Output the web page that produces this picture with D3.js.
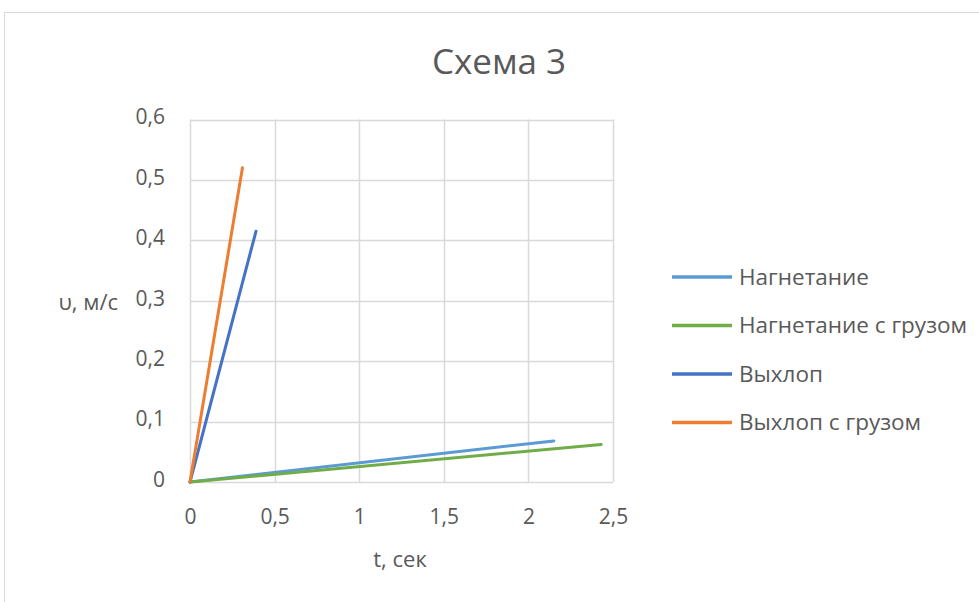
<!DOCTYPE html>
<html>
<head>
<meta charset="utf-8">
<script src="https://cdn.jsdelivr.net/npm/d3@7/dist/d3.min.js"></script>
<style>
  html, body { margin: 0; padding: 0; background: #fff; }
  svg { display: block; font-family: "Open Sans", "Noto Sans", sans-serif; }
</style>
</head>
<body>
<svg id="chart" width="979" height="602"></svg>
<script>
// Series: time (s) vs velocity (m/s)
const seriesNames = ["Нагнетание", "Нагнетание с грузом", "Выхлоп", "Выхлоп с грузом"];
const seriesColors = ["#5B9BD5", "#70AD47", "#4472C4", "#ED7D31"];
const tNagn = [0, 2.15];
const vNagn = [0, 0.068];
const tNagnGruz = [0, 2.43];
const vNagnGruz = [0, 0.062];
const tVykhlop = [0, 0.39];
const vVykhlop = [0, 0.415];
const tVykhlopGruz = [0, 0.31];
const vVykhlopGruz = [0, 0.52];
const xTicks = [0, 0.5, 1, 1.5, 2, 2.5];
const yTicks = [0, 0.1, 0.2, 0.3, 0.4, 0.5, 0.6];

const series = [
  { name: seriesNames[0], color: seriesColors[0], t: tNagn, v: vNagn },
  { name: seriesNames[1], color: seriesColors[1], t: tNagnGruz, v: vNagnGruz },
  { name: seriesNames[2], color: seriesColors[2], t: tVykhlop, v: vVykhlop },
  { name: seriesNames[3], color: seriesColors[3], t: tVykhlopGruz, v: vVykhlopGruz }
];

const svg = d3.select("#chart");
const fmt = d => String(d).replace(".", ",");
const textColor = "#595959";

// chart frame
svg.append("rect")
  .attr("x", 4.5).attr("y", 12.5)
  .attr("width", 1000).attr("height", 1000)
  .attr("fill", "#fff").attr("stroke", "#d9d9d9").attr("stroke-width", 1);

const x = d3.scaleLinear().domain([0, 2.5]).range([190, 613]);
const y = d3.scaleLinear().domain([0, 0.6]).range([482, 119.5]);

// gridlines
const grid = svg.append("g");
grid.selectAll("line.h").data(yTicks).join("line")
  .attr("x1", x(0)).attr("x2", x(2.5))
  .attr("y1", d => Math.round(y(d)) + 0.5).attr("y2", d => Math.round(y(d)) + 0.5)
  .attr("stroke", "#d9d9d9").attr("stroke-width", 1.5);
grid.selectAll("line.v").data(xTicks).join("line")
  .attr("y1", y(0)).attr("y2", y(0.6))
  .attr("x1", d => Math.round(x(d)) + 0.5).attr("x2", d => Math.round(x(d)) + 0.5)
  .attr("stroke", "#d9d9d9").attr("stroke-width", 1.5);

// axes (labels only)
const yAxis = svg.append("g").attr("transform", `translate(${x(0) - 25},-3)`)
  .call(d3.axisLeft(y).tickValues(yTicks).tickFormat(fmt).tickSize(0).tickPadding(0));
const xAxis = svg.append("g").attr("transform", `translate(0,${y(0) + 35})`)
  .call(d3.axisBottom(x).tickValues(xTicks).tickFormat(fmt).tickSize(0).tickPadding(0));
[yAxis, xAxis].forEach(a => {
  a.select(".domain").remove();
  a.selectAll("text").attr("fill", textColor).style("font-size", "21px")
    .style("font-family", "'Open Sans', sans-serif");
});
yAxis.selectAll("text").attr("dy", "0.35em");
xAxis.selectAll("text").attr("y", 0).attr("dy", "0.35em");

// series lines
const line = d3.line().x(d => x(d[0])).y(d => y(d[1]));
svg.append("g").selectAll("path").data(series).join("path")
  .attr("d", s => line(s.t.map((t, i) => [t, s.v[i]])))
  .attr("fill", "none").attr("stroke", s => s.color)
  .attr("stroke-width", 3).attr("stroke-linecap", "round");

// title
svg.append("text").attr("x", 499).attr("y", 74).attr("text-anchor", "middle")
  .attr("fill", textColor).style("font-size", "35px").text("Схема 3");

// axis titles
svg.append("text").attr("x", 118).attr("y", 310).attr("text-anchor", "end")
  .attr("fill", textColor).style("font-size", "22px").text("υ, м/с");
svg.append("text").attr("x", 400).attr("y", 567).attr("text-anchor", "middle")
  .attr("fill", textColor).style("font-size", "22px").text("t, сек");

// legend
const legend = svg.append("g").selectAll("g").data(series).join("g")
  .attr("transform", (d, i) => `translate(672,${277 + i * 48.5})`);
legend.append("line").attr("x1", 0).attr("x2", 60)
  .attr("stroke", d => d.color).attr("stroke-width", 3.5);
legend.append("text").attr("x", 67).attr("dy", "0.35em").attr("fill", textColor)
  .style("font-size", "22.5px").text(d => d.name);
</script>
</body>
</html>
